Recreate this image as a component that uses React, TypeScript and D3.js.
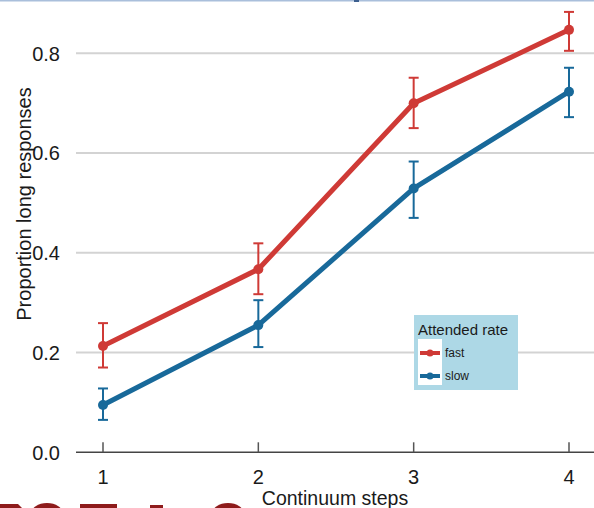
import React from "react";
import * as d3 from "d3";

// Continuum steps on the x axis
const steps = [1, 2, 3, 4];
const stepLabels = ["1", "2", "3", "4"];

// Proportion of "long" responses per attended rate, with error-bar bounds
const fastMean = [0.213, 0.367, 0.7, 0.847];
const fastLow = [0.17, 0.317, 0.65, 0.805];
const fastHigh = [0.259, 0.419, 0.751, 0.883];

const slowMean = [0.095, 0.255, 0.529, 0.723];
const slowLow = [0.065, 0.211, 0.47, 0.672];
const slowHigh = [0.128, 0.305, 0.583, 0.771];

const yTicks = [0, 0.2, 0.4, 0.6, 0.8];
const yTickLabels = ["0.0", "0.2", "0.4", "0.6", "0.8"];

const seriesNames = ["fast", "slow"];
const seriesColors = ["#cf3a36", "#18699a"];

const W = 594;
const H = 508;
const FONT = "'Liberation Sans', Arial, sans-serif";

export default function App() {
  const x = d3.scaleLinear().domain([1, 4]).range([103, 569]);
  const y = d3.scaleLinear().domain([0, 0.8]).range([452.3, 53.3]);
  const plotLeft = 76;
  const plotRight = W;

  const line = d3
    .line<number>()
    .x((_, i) => x(steps[i]))
    .y((d) => y(d));

  const series = [
    { name: seriesNames[0], color: seriesColors[0], mean: fastMean, low: fastLow, high: fastHigh },
    { name: seriesNames[1], color: seriesColors[1], mean: slowMean, low: slowLow, high: slowHigh },
  ];

  const capHalf = 5;

  return (
    <svg
      width={W}
      height={H}
      style={{ position: "absolute", left: 0, top: 0, background: "#fff" }}
      fontFamily={FONT}
    >
      {/* thin band along the top edge */}
      <rect x={0} y={0} width={W} height={1.5} fill="#aabfdb" />
      <rect x={354} y={0} width={5} height={2} fill="#3d5f8f" />

      {/* horizontal gridlines */}
      {yTicks.slice(1).map((t) => (
        <line
          key={t}
          x1={plotLeft}
          x2={plotRight}
          y1={y(t)}
          y2={y(t)}
          stroke="#d3d3d3"
          strokeWidth={2}
        />
      ))}

      {/* x axis line and ticks */}
      <line x1={plotLeft} x2={plotRight} y1={y(0)} y2={y(0)} stroke="#444" strokeWidth={1.5} />
      {steps.map((s) => (
        <line key={s} x1={x(s)} x2={x(s)} y1={y(0)} y2={y(0) - 10} stroke="#555" strokeWidth={1.5} />
      ))}

      {/* y tick labels */}
      {yTicks.map((t, i) => (
        <text
          key={t}
          x={60}
          y={y(t)}
          dy="0.36em"
          textAnchor="end"
          fontSize={20}
          fill="#1a1a1a"
        >
          {yTickLabels[i]}
        </text>
      ))}

      {/* x tick labels */}
      {steps.map((s, i) => (
        <text key={s} x={x(s)} y={484} textAnchor="middle" fontSize={20} fill="#1a1a1a">
          {stepLabels[i]}
        </text>
      ))}

      {/* axis titles */}
      <text x={(plotLeft + plotRight) / 2} y={505} textAnchor="middle" fontSize={19.5} fill="#1a1a1a">
        Continuum steps
      </text>
      <text
        transform={`translate(31,${204}) rotate(-90)`}
        textAnchor="middle"
        fontSize={20}
        fill="#1a1a1a"
      >
        Proportion long responses
      </text>

      {/* series: lines, error bars, points */}
      {series.map((sr) => (
        <g key={sr.name}>
          <path d={line(sr.mean) || ""} fill="none" stroke={sr.color} strokeWidth={5} strokeLinejoin="round" />
          {steps.map((s, i) => (
            <g key={s} stroke={sr.color} strokeWidth={2}>
              <line x1={x(s)} x2={x(s)} y1={y(sr.low[i])} y2={y(sr.high[i])} />
              <line x1={x(s) - capHalf} x2={x(s) + capHalf} y1={y(sr.high[i])} y2={y(sr.high[i])} />
              <line x1={x(s) - capHalf} x2={x(s) + capHalf} y1={y(sr.low[i])} y2={y(sr.low[i])} />
            </g>
          ))}
          {steps.map((s, i) => (
            <circle key={s} cx={x(s)} cy={y(sr.mean[i])} r={5} fill={sr.color} />
          ))}
        </g>
      ))}

      {/* legend */}
      <g>
        <rect x={414} y={315} width={104} height={75} fill="#add8e6" />
        <text x={418} y={335} fontSize={15} fill="#1a1a1a">
          Attended rate
        </text>
        <rect x={418} y={339} width={24} height={46} fill="#fff" />
        {series.map((sr, i) => {
          const ky = 353 + i * 23;
          return (
            <g key={sr.name}>
              <line x1={420} x2={440} y1={ky} y2={ky} stroke={sr.color} strokeWidth={4} />
              <circle cx={430} cy={ky} r={3.5} fill={sr.color} />
              <text x={445} y={ky} dy="0.36em" fontSize={12} fill="#1a1a1a">
                {sr.name}
              </text>
            </g>
          );
        })}
      </g>

      {/* partially visible dark red shapes along the bottom edge */}
      <g fill="#8e1b1b">
        <path d="M0,504 L18,504 L22,508 L0,508 Z" />
        <ellipse cx={47} cy={514} rx={16} ry={11} />
        <rect x={80} y={504} width={37} height={4} />
        <rect x={150} y={505} width={13} height={3} />
        <ellipse cx={228} cy={514} rx={16} ry={11} />
      </g>
    </svg>
  );
}
